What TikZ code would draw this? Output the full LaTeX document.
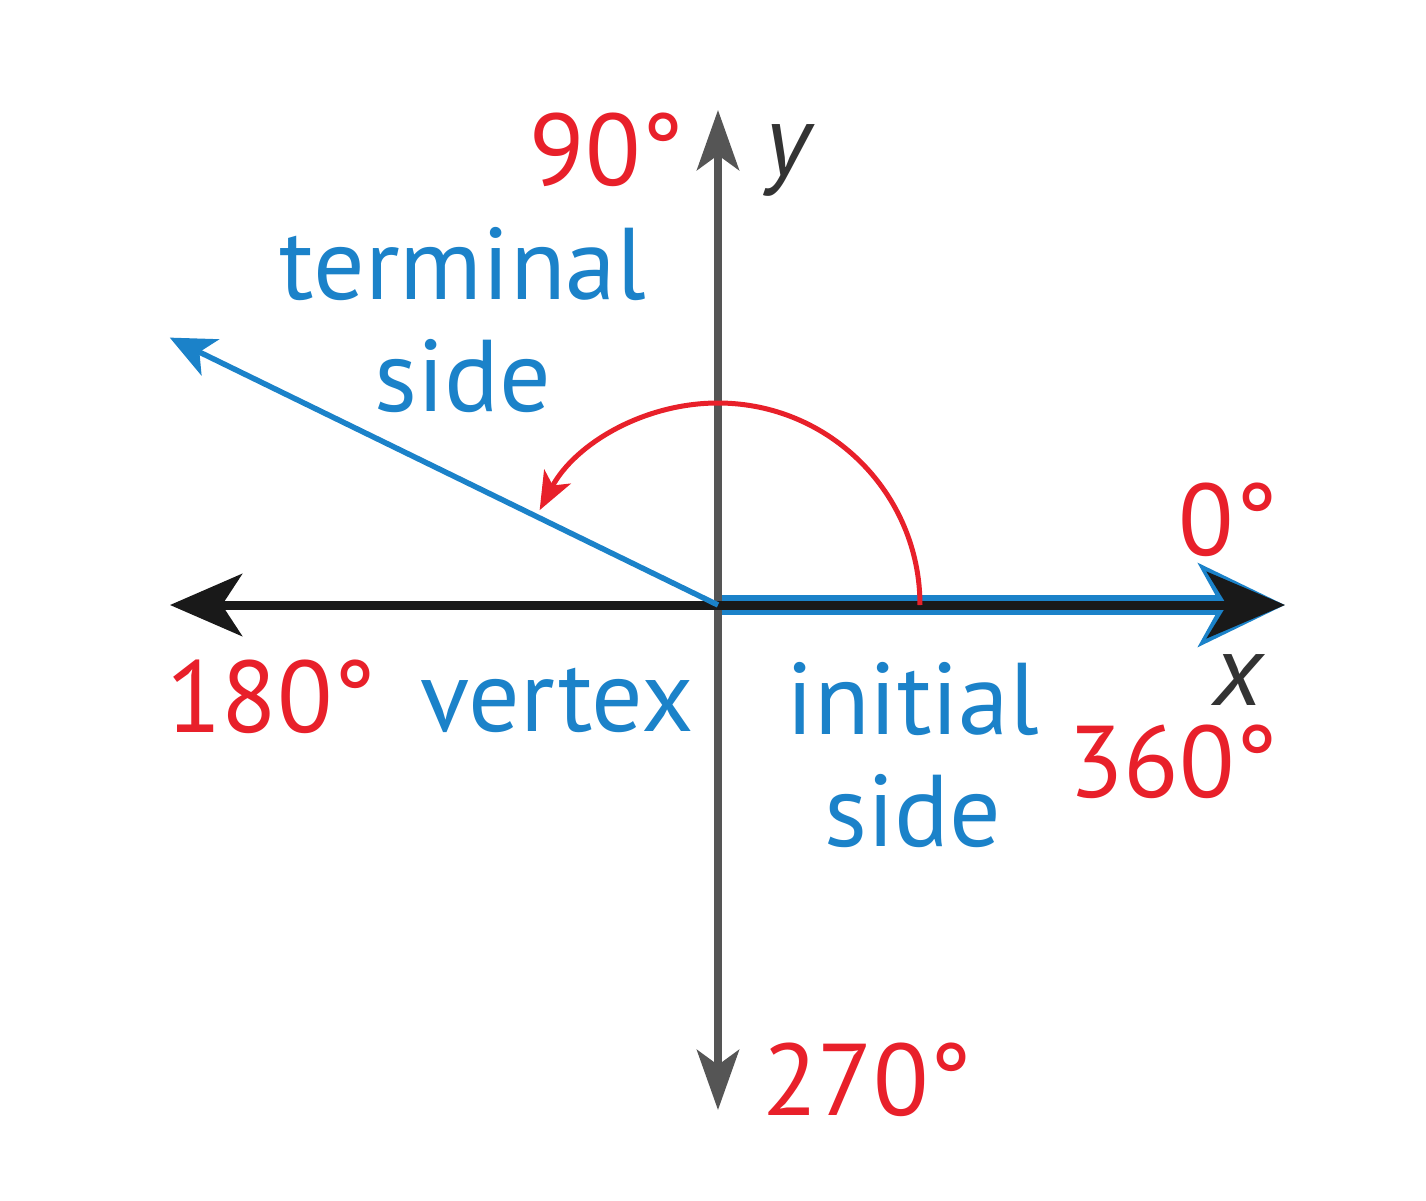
\documentclass[tikz,border=0pt]{standalone}
\usepackage{fontspec}
\setmainfont{PT Sans}
\usepackage{xcolor}
\usetikzlibrary{arrows.meta}
\definecolor{angred}{RGB}{232,32,42}
\definecolor{sideblue}{RGB}{27,130,201}
\definecolor{axisgray}{RGB}{85,85,85}

\begin{document}
\begin{tikzpicture}[font=\fontsize{29}{34}\selectfont,
  redlbl/.style={text=angred, inner sep=0pt},
  bluelbl/.style={text=sideblue, inner sep=0pt, align=center}]
\useasboundingbox (-7.18,-5.95) rectangle (7.08,6.05);
\coordinate (O) at (0,0);
\coordinate (xl) at (-5.48,0);
\coordinate (xr) at (5.67,0);
\coordinate (yt) at (0,4.95);
\coordinate (yb) at (0,-5.05);
\coordinate (term) at (154:6.1);

% initial side under the x-axis
\draw[sideblue, line width=0.2cm, -{Stealth[length=0.86cm, width=0.82cm, inset=0.22cm]}] (O) -- (xr);
% axes
\draw[axisgray, line width=0.08cm, {Stealth[length=0.6cm, width=0.42cm, inset=0.15cm]}-{Stealth[length=0.6cm, width=0.42cm, inset=0.15cm]}] (yb) -- (yt);
\draw[black!90, line width=0.09cm, {Stealth[length=0.72cm, width=0.62cm, inset=0.2cm]}-{Stealth[length=0.78cm, width=0.66cm, inset=0.2cm]}] (xl) -- (xr);
% terminal side and angle
\draw[sideblue, line width=0.055cm, -{Stealth[length=0.45cm, width=0.4cm, inset=0.12cm]}] (O) -- (term);
\draw[angred, line width=0.05cm, -{Stealth[length=0.38cm, width=0.3cm, inset=0.1cm]}] (2.02,0) arc[start angle=0, end angle=152, radius=2.02];

\node[redlbl] (n90) at (-1.11,4.55) {90°};
\node[inner sep=0pt, text=black!80] (ylbl) at (0.72,4.45) {\textit{y}};
\node[bluelbl] (termlbl) at (-2.55,2.85) {terminal\\[-2pt]side};
\node[redlbl] (n0) at (5.10,0.85) {0°};
\node[redlbl] (n180) at (-4.47,-0.92) {180°};
\node[bluelbl] (vertex) at (-1.61,-0.95) {vertex};
\node[bluelbl] (initlbl) at (1.95,-1.5) {initial\\[-2pt]side};
\node[inner sep=0pt, text=black!80] (xlbl) at (5.22,-0.75) {\textit{x}};
\node[redlbl] (n360) at (4.55,-1.57) {360°};
\node[redlbl] (n270) at (1.49,-4.75) {270°};
\end{tikzpicture}
\end{document}
